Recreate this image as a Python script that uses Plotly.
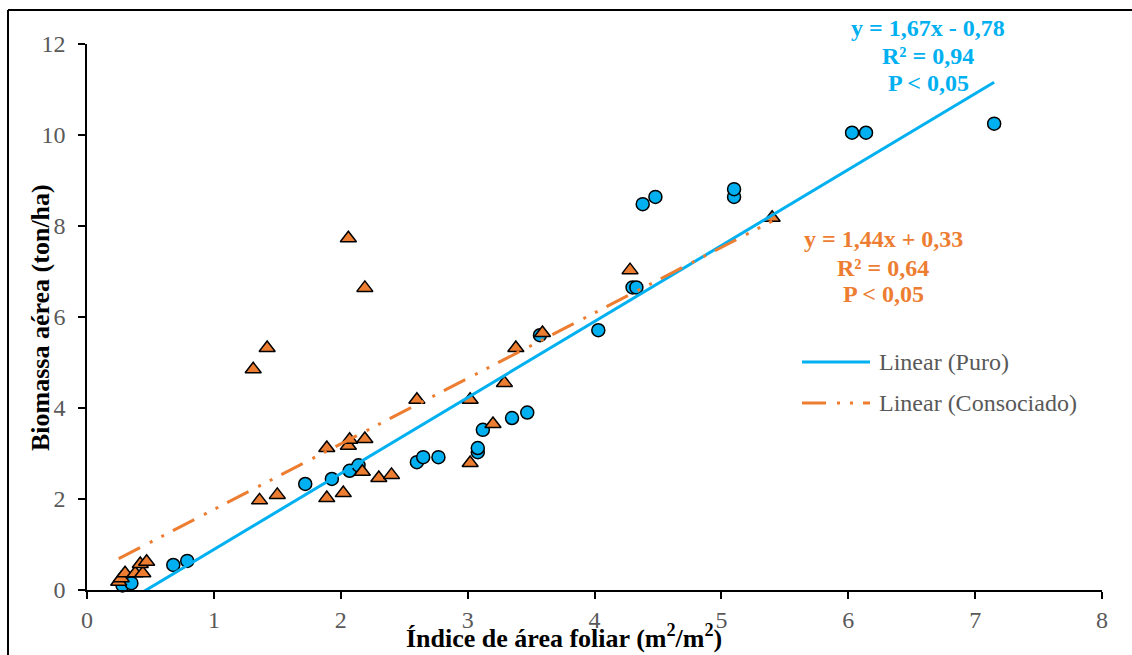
import plotly.graph_objects as go

# ---- data ----
puro_x = [0.28, 0.35, 0.68, 0.79, 1.72, 1.93, 2.07, 2.14, 2.60, 2.65, 2.77, 3.08, 3.08, 3.12,
          3.35, 3.47, 3.57, 4.03, 4.30, 4.33, 4.38, 4.48, 5.10, 5.10, 6.03, 6.14, 7.15]
puro_y = [0.10, 0.15, 0.55, 0.64, 2.33, 2.44, 2.62, 2.74, 2.81, 2.92, 2.92, 3.03, 3.12, 3.52,
          3.78, 3.90, 5.60, 5.71, 6.65, 6.65, 8.48, 8.64, 8.64, 8.81, 10.05, 10.05, 10.25]

cons_x = [0.25, 0.27, 0.30, 0.38, 0.44, 0.42, 0.47, 1.31, 1.36, 1.42, 1.50, 1.89, 1.89, 2.02,
          2.06, 2.07, 2.06, 2.17, 2.19, 2.19, 2.30, 2.40, 2.60, 3.02, 3.02, 3.20, 3.29, 3.38,
          3.59, 4.28, 5.40]
cons_y = [0.18, 0.26, 0.37, 0.37, 0.37, 0.57, 0.62, 4.85, 1.97, 5.32, 2.09, 2.02, 3.12, 2.13,
          3.17, 3.30, 7.73, 2.60, 3.32, 6.64, 2.46, 2.53, 4.18, 2.79, 4.18, 3.65, 4.55, 5.32,
          5.65, 7.03, 8.18]

# regression coefficients shown on the chart
puro_slope, puro_icpt = 1.67, -0.78
cons_slope, cons_icpt = 1.44, 0.33

puro_eq = ["y = 1,67x - 0,78", "R² = 0,94", "P < 0,05"]
cons_eq = ["y = 1,44x + 0,33", "R² = 0,64", "P < 0,05"]
legend_names = ["Linear (Puro)", "Linear (Consociado)"]

x_ticks = [0, 1, 2, 3, 4, 5, 6, 7, 8]
y_ticks = [0, 2, 4, 6, 8, 10, 12]

BLUE = "#00B0F0"
ORANGE = "#ED7D31"
GRAY = "#595959"
SERIF = "Liberation Serif"
ORANGE_DASH = "24px,11px,3px,10px,3px,10px"

# trendline endpoints from coefficients over each series' x-range
px_line = [min(puro_x), max(puro_x)]
py_line = [puro_slope * v + puro_icpt for v in px_line]
cx_line = [min(cons_x), max(cons_x)]
cy_line = [cons_slope * v + cons_icpt for v in cx_line]

fig = go.Figure()
fig.add_trace(go.Scatter(
    x=puro_x, y=puro_y, mode="markers", name="Puro", showlegend=False, cliponaxis=False,
    marker=dict(symbol="circle", size=13, color=BLUE, line=dict(color="black", width=1.5))))
fig.add_trace(go.Scatter(
    x=cons_x, y=cons_y, mode="markers", name="Consociado", showlegend=False, cliponaxis=False,
    marker=dict(symbol="triangle-up", size=14, color=ORANGE, line=dict(color="black", width=1.5))))
fig.add_trace(go.Scatter(
    x=px_line, y=py_line, mode="lines", name=legend_names[0], showlegend=False,
    line=dict(color=BLUE, width=3)))
fig.add_trace(go.Scatter(
    x=cx_line, y=cy_line, mode="lines", name=legend_names[1], showlegend=False,
    line=dict(color=ORANGE, width=3, dash=ORANGE_DASH)))

L, R, T, B = 87, 30, 44, 65
W, H = 1132, 655
PW, PH = W - L - R, H - T - B


def pxx(p):
    return (p - L) / PW


def pxy(p):
    return (T + PH - p) / PH


axis_common = dict(
    showline=True, linecolor="black", linewidth=1.5, mirror=False,
    ticks="outside", ticklen=7, tickwidth=1.5, tickcolor="black",
    showgrid=False, zeroline=False,
    tickfont=dict(family=SERIF, size=24, color=GRAY),
)

fig.update_layout(
    width=W, height=H,
    margin=dict(l=L, r=R, t=T, b=B, pad=0),
    paper_bgcolor="white", plot_bgcolor="white",
    showlegend=False,
    xaxis=dict(range=[0, 8], tickvals=x_ticks, ticklabelstandoff=0, automargin=False, **axis_common),
    yaxis=dict(range=[0, 12], tickvals=y_ticks, ticklabelstandoff=8, automargin=False, **axis_common),
)

ann = []
# axis titles
ann.append(dict(text="<b>Índice de área foliar (m<sup>2</sup>/m<sup>2</sup>)</b>", xref="paper", yref="paper",
                x=pxx(564), y=pxy(636), xanchor="center", yanchor="middle", showarrow=False,
                font=dict(family=SERIF, size=26, color="black")))
ann.append(dict(text="<b>Biomassa aérea (ton/ha)</b>", xref="paper", yref="paper",
                x=pxx(40), y=pxy(318), xanchor="center", yanchor="middle", textangle=-90,
                showarrow=False, font=dict(family=SERIF, size=26, color="black")))
# equations
for txt, yy in zip(puro_eq, [28, 56, 83]):
    ann.append(dict(text="<b>%s</b>" % txt, xref="paper", yref="paper", x=pxx(928), y=pxy(yy),
                    xanchor="center", yanchor="middle", showarrow=False,
                    font=dict(family=SERIF, size=24, color=BLUE)))
for txt, yy in zip(cons_eq, [239.5, 268, 294]):
    ann.append(dict(text="<b>%s</b>" % txt, xref="paper", yref="paper", x=pxx(883), y=pxy(yy),
                    xanchor="center", yanchor="middle", showarrow=False,
                    font=dict(family=SERIF, size=24, color=ORANGE)))
# legend
for name, yy in zip(legend_names, [362, 403]):
    ann.append(dict(text=name, xref="paper", yref="paper", x=pxx(877), y=pxy(yy),
                    xanchor="left", yanchor="middle", showarrow=False,
                    font=dict(family=SERIF, size=24, color=GRAY)))

shapes = [
    dict(type="line", xref="paper", yref="paper", x0=pxx(802), x1=pxx(870), y0=pxy(362), y1=pxy(362),
         line=dict(color=BLUE, width=3)),
    dict(type="line", xref="paper", yref="paper", x0=pxx(802), x1=pxx(870), y0=pxy(403), y1=pxy(403),
         line=dict(color=ORANGE, width=3, dash=ORANGE_DASH)),
    # chart-area border (top and left visible)
    dict(type="line", xref="paper", yref="paper", x0=pxx(8), x1=pxx(8), y0=pxy(670), y1=pxy(10),
         line=dict(color="black", width=2)),
    dict(type="line", xref="paper", yref="paper", x0=pxx(8), x1=pxx(1145), y0=pxy(10), y1=pxy(10),
         line=dict(color="black", width=2)),
]
fig.update_layout(annotations=ann, shapes=shapes)

fig.write_html("out.html", config={"displayModeBar": False},
               post_script="document.body.style.margin='0';document.body.style.overflow='hidden';")
